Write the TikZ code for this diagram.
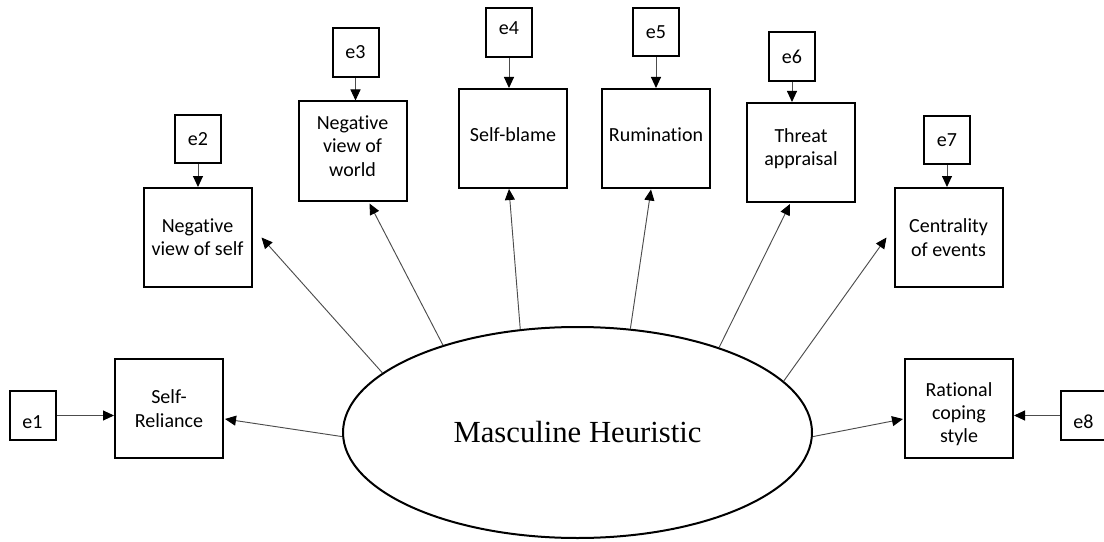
\documentclass[tikz,border=0pt]{standalone}
\usepackage{fontspec}
\setmainfont{Carlito}[Ligatures=NoCommon]
\newfontfamily\latentface{Liberation Serif}
\usetikzlibrary{arrows.meta,shapes.geometric,calc}

\begin{document}
\begin{tikzpicture}[x=0.75pt,y=-0.75pt,
  box/.style={draw,line width=1.5pt,minimum width=81pt,minimum height=74.25pt,
    inner sep=2pt,align=center,font=\fontsize{15}{17.5}\selectfont},
  boxtext/.style={inner sep=0pt,align=center,font=\fontsize{15}{17.5}\selectfont},
  err/.style={draw,line width=1.5pt,minimum width=34.5pt,minimum height=36.5pt,
    inner sep=0pt,font=\fontsize{15}{17}\selectfont},
  latent/.style={draw,ellipse,line width=1.5pt,minimum width=351.75pt,
    minimum height=158.25pt,inner sep=0pt,font=\latentface\fontsize{23}{27}\selectfont},
  link/.style={draw=black!70,line width=0.7pt,
    -{Triangle[length=8.25pt,width=7.5pt,color=black]}}]

\useasboundingbox (0,0) rectangle (1104,542);

% latent factor
\node[latent] (M) at (577.5,432.5) {Masculine Heuristic};

% observed indicators
\node[box] (SR) at (169,408.5)   {Self-\\Reliance};
\node[box] (NVS) at (197.5,237.5) {Negative\\view of self};
\node[box] (NVW) at (352.5,151)   {};
\node[box] (SB) at (513,138.5)    {};
\node[box] (RU) at (656,138.5)    {};
\node[box] (TH) at (801,152.5)    {};
\node[box] (CE) at (948.5,237.5)  {Centrality\\of events};
\node[box] (RA) at (959,408.5)    {};

% labels sitting slightly off the box centres
\node[boxtext] (NVWt) at ($(NVW)+(0,-5)$) {Negative\\view of\\world};
\node[boxtext] (SBt)  at ($(SB)+(0,-3.5)$) {Self-blame};
\node[boxtext] (RUt)  at ($(RU)+(0,-3.5)$) {Rumination};
\node[boxtext] (THt)  at ($(TH)+(0,-4)$)   {Threat\\appraisal};
\node[boxtext] (RAt)  at ($(RA)+(0,5.5)$)  {Rational\\coping\\style};

% error terms
\node[err] (e1) at (32.5,415.5) {\raisebox{-9.5pt}[0pt][0pt]{e1}};
\node[err] (e2) at (198,139)    {e2};
\node[err] (e3) at (355.5,52.5) {e3};
\node[err] (e4) at (509,32.5)   {\raisebox{-1.5pt}[0pt][0pt]{e4}};
\node[err] (e5) at (656,32)     {e5};
\node[err] (e6) at (792,56.5)   {e6};
\node[err] (e7) at (947,140)    {e7};
\node[err] (e8) at (1083.5,415.5) {\raisebox{-9.5pt}[0pt][0pt]{e8}};

% error paths
\draw[link] (e1.east) -- (e1.east -| SR.west);
\draw[link] (e2.south) -- (e2.south |- NVS.north);
\draw[link] (e3.south) -- (e3.south |- NVW.north);
\draw[link] (e4.south) -- (e4.south |- SB.north);
\draw[link] (e5.south) -- (e5.south |- RU.north);
\draw[link] (e6.south) -- (e6.south |- TH.north);
\draw[link] (e7.south) -- (e7.south |- CE.north);
\draw[link] (e8.west) -- (e8.west -| RA.east);

% factor loadings
\draw[link] (M.181.3) -- ($(SR.east)+(1,10.5)$);
\draw[link] (M.163.7) -- ($(NVS.east)+(9,0)$);
\draw[link] (M.147.7) -- ($(NVW.south)+(17,2)$);
\draw[link] (M.119.4) -- ($(SB.south)+(-4,0)$);
\draw[link] (M.63.3)  -- ($(RU.south)+(-5,0.5)$);
\draw[link] (M.31.1)  -- ($(TH.south)+(-11,1)$);
\draw[link] (M.14.3)  -- ($(CE.west)+(-7,0)$);
\draw[link] (M.-1.3)  -- ($(RA.west)+(-1,10.5)$);
\end{tikzpicture}
\end{document}
